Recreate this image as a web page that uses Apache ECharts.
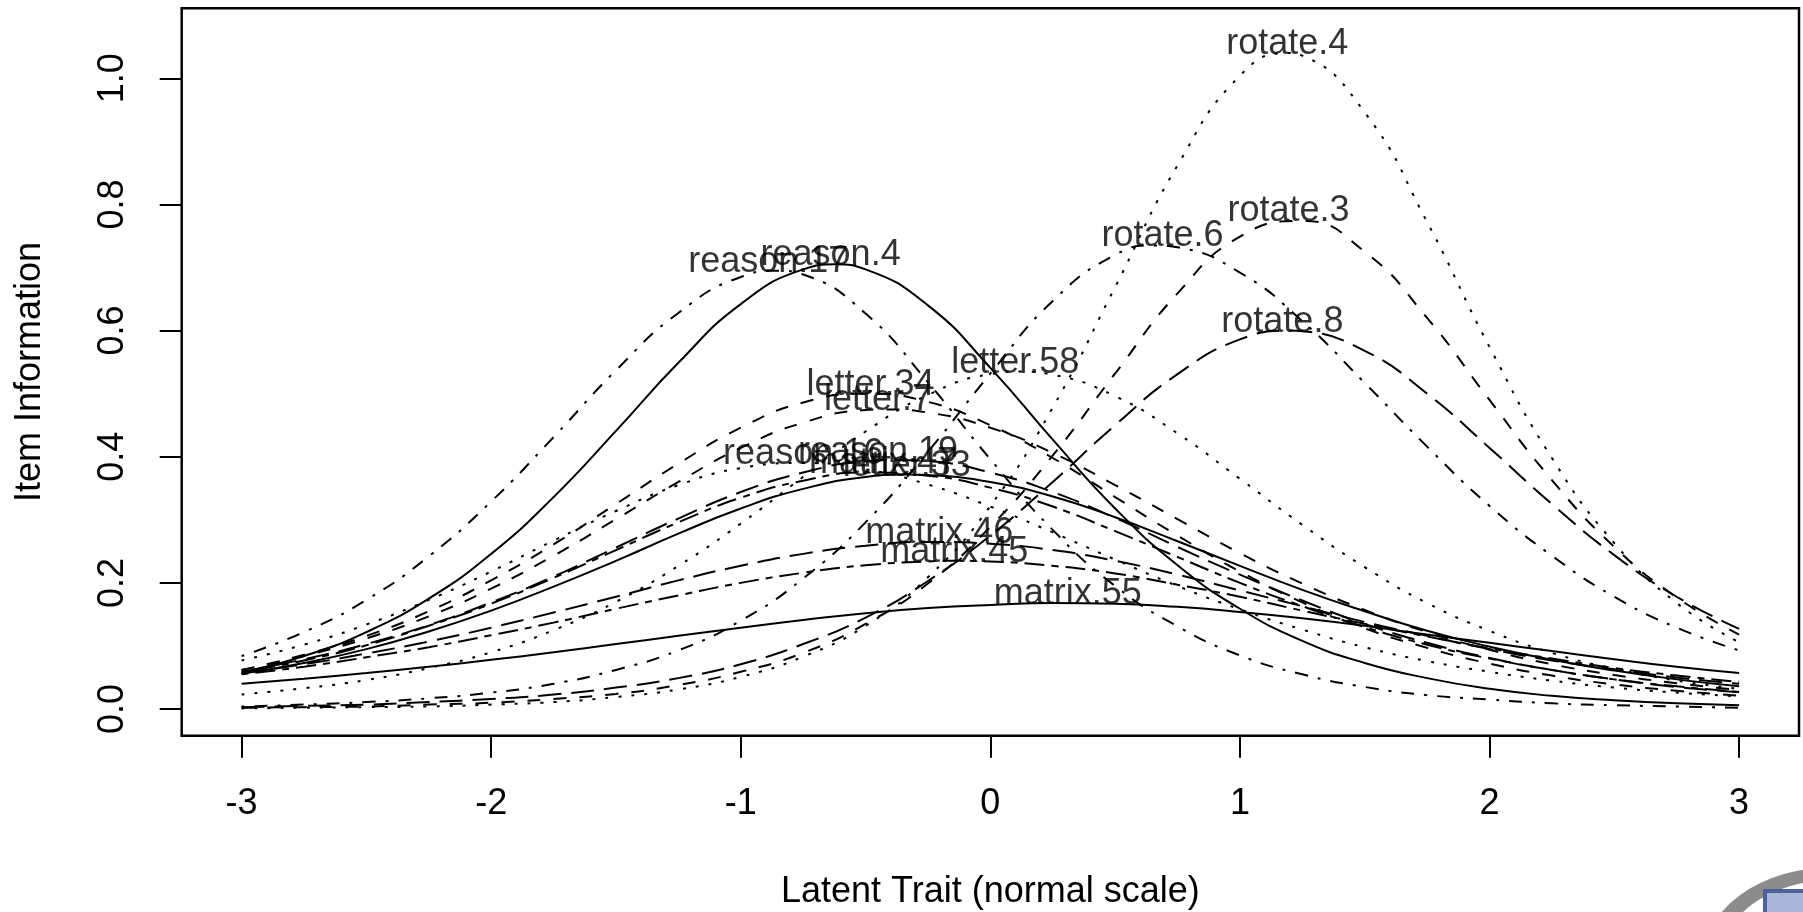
<!DOCTYPE html>
<html>
<head>
<meta charset="utf-8">
<script src="https://cdn.jsdelivr.net/npm/echarts@6/dist/echarts.min.js"></script>
<style>
  html, body { margin: 0; padding: 0; background: #fff; }
  #chart { width: 1803px; height: 912px; }
</style>
</head>
<body>
<div id="chart"></div>
<script>
// latent trait grid (x)
var theta = [-3, -2.75, -2.5, -2.25, -2, -1.75, -1.5, -1.25, -1, -0.75, -0.5, -0.25, 0,
             0.25, 0.5, 0.75, 1, 1.25, 1.5, 1.75, 2, 2.25, 2.5, 2.75, 3];

// item information, one array per item
var reason4  = [.058,.084,.122,.175,.246,.336,.441,.549,.642,.697,.697,.640,.541,.427,.318,.228,.159,.108,.073,.049,.032,.021,.014,.009,.006];
var reason16 = [.077,.102,.134,.173,.218,.267,.314,.355,.382,.390,.380,.356,.321,.280,.237,.195,.158,.126,.098,.076,.059,.045,.034,.026,.020];
var reason17 = [.084,.122,.173,.242,.329,.431,.537,.628,.685,.689,.627,.518,.396,.284,.195,.131,.085,.055,.035,.022,.015,.009,.006,.004,.002];
var reason19 = [.059,.079,.103,.133,.169,.210,.256,.302,.344,.375,.393,.393,.375,.344,.303,.257,.213,.172,.135,.105,.081,.062,.047,.035,.027];
var letter7  = [.062,.084,.112,.147,.191,.243,.301,.360,.414,.454,.474,.470,.446,.406,.355,.301,.247,.199,.157,.122,.094,.071,.054,.041,.030];
var letter33 = [.056,.073,.095,.123,.156,.194,.235,.278,.318,.349,.368,.371,.360,.337,.304,.266,.227,.189,.155,.124,.099,.078,.061,.047,.036];
var letter34 = [.062,.086,.116,.155,.204,.261,.325,.389,.446,.486,.500,.487,.450,.398,.336,.275,.218,.169,.128,.097,.072,.053,.039,.029,.021];
var letter58 = [.023,.033,.046,.065,.090,.125,.170,.227,.294,.368,.440,.498,.531,.530,.496,.437,.365,.292,.225,.168,.124,.089,.064,.045,.032];
var matrix45 = [.055,.067,.082,.098,.117,.137,.159,.180,.200,.216,.228,.234,.234,.227,.215,.197,.178,.156,.135,.115,.096,.080,.065,.053,.043];
var matrix46 = [.057,.071,.088,.107,.129,.153,.178,.204,.227,.246,.259,.265,.262,.252,.235,.213,.188,.163,.138,.116,.095,.077,.063,.050,.040];
var matrix47 = [.058,.077,.101,.132,.167,.208,.252,.296,.335,.362,.375,.370,.351,.321,.282,.241,.200,.163,.130,.102,.080,.062,.047,.036,.027];
var matrix55 = [.040,.048,.057,.067,.078,.090,.103,.116,.129,.141,.152,.160,.165,.168,.167,.162,.154,.144,.132,.118,.105,.092,.079,.067,.057];
var rotate3  = [.002,.003,.004,.007,.010,.016,.024,.038,.059,.089,.135,.199,.289,.402,.532,.659,.749,.774,.725,.620,.490,.363,.257,.177,.118];
var rotate4  = [.001,.002,.003,.004,.007,.011,.019,.031,.051,.083,.132,.209,.322,.478,.669,.862,1.004,1.036,.946,.772,.574,.398,.263,.168,.106];
var rotate6  = [.004,.007,.011,.017,.026,.040,.062,.093,.140,.207,.296,.408,.532,.647,.720,.732,.692,.615,.517,.416,.322,.243,.178,.129,.093];
var rotate8  = [.003,.005,.007,.011,.016,.023,.034,.049,.071,.103,.145,.203,.275,.360,.450,.531,.586,.599,.568,.500,.414,.325,.244,.178,.127];

var items = ['reason.4','reason.16','reason.17','reason.19','letter.7','letter.33','letter.34','letter.58',
             'matrix.45','matrix.46','matrix.47','matrix.55','rotate.3','rotate.4','rotate.6','rotate.8'];
var infos = [reason4, reason16, reason17, reason19, letter7, letter33, letter34, letter58,
             matrix45, matrix46, matrix47, matrix55, rotate3, rotate4, rotate6, rotate8];
var ltys  = ['solid','dotted','dotdash','longdash','dashed','solid','dashed','dotted',
             'twodash','longdash','twodash','solid','dashed','dotted','dotdash','longdash'];

// each curve's top, where it falls between grid points (null = top is on the grid)
var peakX = [-0.62, null, -0.85, -0.38, -0.42, -0.33, null, 0.12, -0.14, null, null, null, null, 1.19, 0.66, 1.2];
var peakY = [0.705, null, 0.695, 0.395, 0.475, 0.372, null, 0.535, 0.235, null, null, null, null, 1.04, 0.735, 0.60];

// where each item's name is written
var labelX = [-0.64, -0.75, -0.89, -0.45, -0.45, -0.335, -0.48, 0.10, -0.145, -0.205, -0.43, 0.31, 1.195, 1.19, 0.69, 1.17];
var labelY = [0.705, 0.39, 0.695, 0.393, 0.475, 0.371, 0.50, 0.535, 0.235, 0.265, 0.375, 0.168, 0.775, 1.04, 0.735, 0.60];

var xTicks = [-3, -2, -1, 0, 1, 2, 3];
var yTicks = [0, 0.2, 0.4, 0.6, 0.8, 1.0];

var dashMap = {
  solid: 'solid',
  dashed: [13, 13],
  dotted: [3, 10],
  dotdash: [3, 10, 13, 10],
  longdash: [23, 10],
  twodash: [7, 7, 20, 7]
};
var font = "'Liberation Sans', Arial, Helvetica, sans-serif";

var myChart = echarts.init(document.getElementById('chart'));

var series = items.map(function (name, k) {
  var pts = theta.map(function (t, i) { return [t, infos[k][i]]; });
  if (peakX[k] !== null) {
    pts.push([peakX[k], peakY[k]]);
    pts.sort(function (a, b) { return a[0] - b[0]; });
  }
  return {
    name: name,
    type: 'line',
    showSymbol: false,
    smooth: true,
    data: pts,
    lineStyle: { color: '#000', width: 2, type: dashMap[ltys[k]], cap: 'butt' },
    z: 3
  };
});

series.push({
  type: 'scatter',
  symbolSize: 0,
  data: items.map(function (name, k) { return { name: name, value: [labelX[k], labelY[k]] }; }),
  label: {
    show: true,
    position: 'top',
    distance: 0,
    offset: [0, 9],
    formatter: '{b}',
    color: '#000',
    fontSize: 36,
    fontFamily: font
  },
  z: 5
});

var option = {
  backgroundColor: '#fff',
  animation: false,
  grid: {
    left: 181.7, right: 4, top: 8.3, bottom: 176.3,
    show: true, borderColor: '#000', borderWidth: 2.5,
    containLabel: false, outerBoundsMode: 'none'
  },
  xAxis: {
    type: 'value',
    min: -3.24, max: 3.24,
    name: 'Latent Trait (normal scale)',
    nameLocation: 'middle',
    nameGap: 138,
    nameTextStyle: { fontSize: 36, color: '#000', fontFamily: font },
    axisLine: { show: false, onZero: false },
    splitLine: { show: false },
    axisTick: { show: true, inside: false, length: 22, customValues: xTicks, lineStyle: { color: '#000', width: 2 } },
    axisLabel: { customValues: xTicks, fontSize: 36, color: '#000', margin: 50, fontFamily: font }
  },
  yAxis: {
    type: 'value',
    min: -0.0423, max: 1.111,
    name: 'Item Information',
    nameLocation: 'middle',
    nameGap: 134,
    nameTextStyle: { fontSize: 36, color: '#000', fontFamily: font },
    axisLine: { show: false, onZero: false },
    splitLine: { show: false },
    axisTick: { show: true, inside: false, length: 22, customValues: yTicks, lineStyle: { color: '#000', width: 2 } },
    axisLabel: {
      customValues: yTicks, rotate: 90, fontSize: 36, color: '#000', margin: 51, fontFamily: font,
      formatter: function (v) { return v.toFixed(1); }
    }
  },
  graphic: [
    { type: 'circle', shape: { cx: 0, cy: 0, r: 88 }, x: 1830, y: 962, scaleX: 1.35,
      style: { fill: 'none', stroke: '#8c8c8c', lineWidth: 13 }, silent: true },
    { type: 'rect', shape: { x: 1765, y: 891, width: 60, height: 40 },
      style: { fill: '#a9b5da', stroke: '#50609c', lineWidth: 4 }, silent: true }
  ],
  series: series
};

myChart.setOption(option);
</script>
</body>
</html>
